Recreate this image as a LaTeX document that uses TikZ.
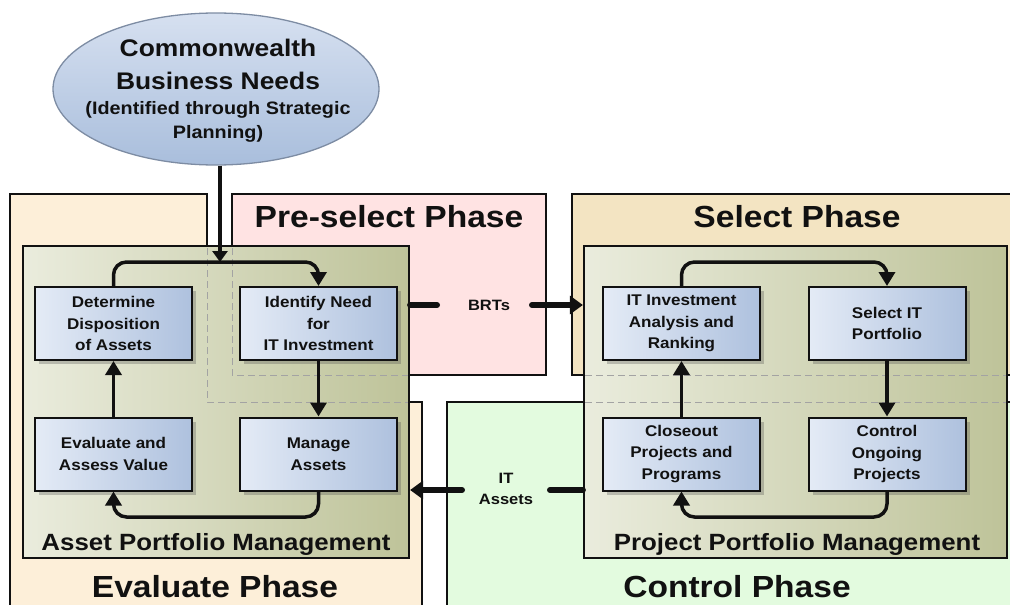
\documentclass[tikz,border=0pt]{standalone}
\usepackage{fontspec}
\setmainfont{Liberation Sans}[FakeStretch=1.1]
\usetikzlibrary{arrows.meta,shapes.geometric,shadows,calc}
\definecolor{evalc}{HTML}{FDEFD9}
\definecolor{prec}{HTML}{FFE3E3}
\definecolor{selc}{HTML}{F3E4C2}
\definecolor{ctlc}{HTML}{E3FBDF}
\definecolor{greenL}{HTML}{EAECDD}
\definecolor{greenR}{HTML}{BEC399}
\definecolor{blueL}{HTML}{E4EBF6}
\definecolor{blueR}{HTML}{AEC1DE}
\definecolor{ellT}{HTML}{D6E0F0}
\definecolor{ellB}{HTML}{A9BEDC}
\definecolor{ellD}{HTML}{7D8CA3}
\definecolor{hidden}{HTML}{A3A3A3}
\definecolor{ink}{HTML}{111111}
\tikzset{
  phase/.style={draw=ink, line width=2pt},
  title/.style={font=\bfseries\fontsize{30.5}{34}\selectfont, text=ink, inner sep=0pt, anchor=base},
  gbox/.style={draw=ink, line width=2.2pt, left color=greenL, right color=greenR, inner sep=0pt},
  glabel/.style={font=\bfseries\fontsize{23.5}{26}\selectfont, text=ink, inner sep=0pt, anchor=base},
  bbox/.style={draw=ink, line width=2pt, left color=blueL, right color=blueR,
    minimum width=157pt, minimum height=73pt, inner sep=2pt, align=center,
    font=\bfseries\fontsize{15.5}{21.5}\selectfont, text=ink,
    drop shadow={shadow xshift=4pt, shadow yshift=-4pt, opacity=0.3, fill=black!70}},
  ell/.style={ellipse, draw=ellD, line width=1.3pt, top color=ellT, bottom color=ellB,
    minimum width=326pt, minimum height=152pt, inner sep=0pt},
  elltext/.style={align=center, text=ink, inner sep=0pt,
    font=\bfseries\fontsize{24}{33}\selectfont},
  loopar/.style={draw=ink, line width=3.5pt, rounded corners=13pt,
    -{Triangle[length=14pt,width=16pt]}},
  bigline/.style={draw=ink, line width=6pt, line cap=round},
  bigarrow/.style={draw=ink, line width=6pt, line cap=round, -{Triangle[length=13pt,width=18pt]}},
  conlbl/.style={font=\bfseries\fontsize{15}{21.5}\selectfont, text=ink, align=center, inner sep=0pt},
  hid/.style={draw=hidden, line width=1pt, dash pattern=on 7pt off 4pt},
}
\begin{document}
\begin{tikzpicture}[x=1pt,y=-1pt]
\useasboundingbox (0,0) rectangle (1010,605);
\clip (0,0) rectangle (1010,605);
% phase areas
\draw[phase, fill=evalc] (10,194) -- (207,194) -- (207,402) -- (422,402) -- (422,640) -- (10,640) -- cycle;
\draw[phase, fill=prec] (232,194) rectangle (546,375);
\draw[phase, fill=selc] (572,194) rectangle (1040,375);
\draw[phase, fill=ctlc] (447,402) rectangle (1040,640);
% phase titles
\node[title] (tpre) at (389,227) {Pre-select Phase};
\node[title] (tsel) at (797,227) {Select Phase};
\node[title] (teva) at (215,597) {Evaluate Phase};
\node[title] (tctl) at (737,597) {Control Phase};
% portfolio management boxes
\node[gbox, minimum width=386pt, minimum height=312pt] (apm) at (216,402) {};
\node[gbox, minimum width=423pt, minimum height=312pt] (ppm) at (795.5,402) {};
% hidden edges of the phase areas
\draw[hid] (207,248) -- (207,402) -- (408,402);
\draw[hid] (232,248) -- (232,375) -- (408,375);
\draw[hid] (585,375) -- (1006,375);
\draw[hid] (585,402) -- (1006,402);
\node[glabel] (lapm) at (216,550) {Asset Portfolio Management};
\node[glabel] (lppm) at (797,550) {Project Portfolio Management};
% process boxes
\node[bbox] (det) at (113.5,323.5) {Determine\\Disposition\\of Assets};
\node[bbox] (idn) at (318.5,323.5) {Identify Need\\for\\IT Investment};
\node[bbox] (eva) at (113.5,454) {Evaluate and\\Assess Value};
\node[bbox] (man) at (318.5,454) {Manage\\Assets};
\node[bbox] (ita) at (681.5,323.5) {IT Investment\\Analysis and\\Ranking};
\node[bbox] (sel) at (887,323.5) {Select IT\\Portfolio};
\node[bbox] (clo) at (681.5,454) {Closeout\\Projects and\\Programs};
\node[bbox] (con) at (887,454) {Control\\Ongoing\\Projects};
% loop connectors
\coordinate (topL) at (0,262);
\coordinate (botL) at (0,517);
\draw[loopar] (det.north) -- (det.north |- topL) -- (idn.north |- topL) -- (idn.north);
\draw[loopar] (idn.south) -- (man.north);
\draw[loopar] (man.south) -- (man.south |- botL) -- (eva.south |- botL) -- (eva.south);
\draw[loopar] (eva.north) -- (det.south);
\draw[loopar] (ita.north) -- (ita.north |- topL) -- (sel.north |- topL) -- (sel.north);
\draw[loopar] (sel.south) -- (con.north);
\draw[loopar] (con.south) -- (con.south |- botL) -- (clo.south |- botL) -- (clo.south);
\draw[loopar] (clo.north) -- (ita.south);
% business needs
\node[ell] (cbn) at (216,89) {};
\node[elltext] (cbnt) at (218,91) {Commonwealth\\
  Business Needs\\[-8pt]
  {\fontsize{18}{24}\selectfont (Identified through Strategic}\\[-9pt]
  {\fontsize{18}{24}\selectfont Planning)}};
\coordinate (entry) at (220,262);
\draw[draw=ink, line width=3.5pt, -{Triangle[length=11pt,width=15pt]}] (cbn.south -| entry) -- (entry);
% BRTs
\node[conlbl] (brt) at (489,305) {BRTs};
\coordinate (brtL) at (437,305);
\coordinate (brtR) at (532,305);
\draw[bigline] (apm.east |- brtL) -- (brtL);
\draw[bigarrow] (brtR) -- (ppm.west |- brtR);
% IT Assets
\node[conlbl] (ita2) at (506,489) {IT\\Assets};
\coordinate (itL) at (462,490);
\coordinate (itR) at (550,490);
\draw[bigline] (ppm.west |- itR) -- (itR);
\draw[bigarrow] (itL) -- (apm.east |- itL);
\end{tikzpicture}
\end{document}
